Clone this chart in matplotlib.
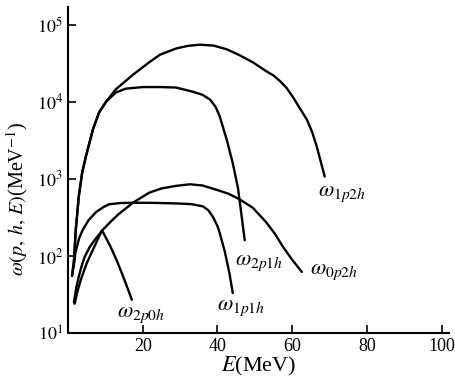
import matplotlib
matplotlib.use("Agg")
import matplotlib.pyplot as plt

plt.rcParams['font.family'] = ['Liberation Serif', 'DejaVu Serif']
plt.rcParams['mathtext.fontset'] = 'stix'

# values (E in MeV, omega in MeV^-1)
E_1p2h = [1.1, 1.6, 2.1, 2.9, 3.8, 4.8, 6.7, 8.3, 10.2, 12.8, 17.4, 21.7, 24.6, 28.9, 32.0, 35.3,
          39.0, 42.5, 46.0, 49.5, 53.0, 55.0, 56.7, 58.5, 60.2, 62.0, 63.9, 65.3, 66.6, 68.7]
w_1p2h = [55, 85, 220, 590, 1200, 1950, 4400, 7200, 10000, 14500, 22400, 32400, 40700, 49000, 53000, 55000,
          53500, 47900, 40000, 32400, 25000, 21900, 18600, 15100, 11500, 8300, 5900, 4100, 2600, 1070]

E_2p1h = [1.1, 1.6, 2.1, 2.9, 3.8, 4.8, 6.7, 8.3, 10.2, 12.8, 15.5, 20.0, 24.6, 28.9, 33.4, 36.0,
          38.0, 39.5, 40.6, 42.5, 44.1, 45.5, 46.5, 47.3]
w_2p1h = [55, 85, 220, 590, 1200, 1950, 4400, 7200, 10000, 13200, 14800, 15500, 15500, 15300, 13500, 12300,
          10700, 8600, 6500, 3200, 1600, 760, 320, 160]

E_1p1h = [1.5, 2.0, 3.0, 4.0, 5.5, 7.5, 9.5, 11.0, 14.0, 17.4, 23.0, 28.9, 33.0, 36.1, 37.6, 38.8,
          40.0, 40.6, 42.0, 43.2, 44.1]
w_1p1h = [70, 110, 170, 220, 290, 370, 430, 468, 485, 490, 488, 480, 470, 440, 390, 320,
          245, 200, 112, 60, 33]

E_0p2h = [1.6, 2.2, 2.9, 3.7, 4.5, 5.8, 7.2, 9.4, 11.5, 13.6, 17.4, 21.7, 25.0, 28.9, 32.6, 36.0,
          39.8, 43.0, 46.0, 49.5, 53.0, 55.5, 57.5, 60.0, 62.6]
w_0p2h = [25, 38, 54, 75, 98, 130, 162, 220, 280, 350, 490, 660, 750, 810, 850, 820,
          720, 640, 540, 420, 275, 190, 132, 89, 62]

E_2p0h = [1.8, 2.5, 3.5, 5.0, 6.5, 8.0, 9.1, 10.5, 11.8, 13.2, 14.4, 15.8, 17.1]
w_2p0h = [24, 34, 50, 80, 115, 165, 215, 160, 120, 84, 60, 40, 27]

labels = [r'$\omega_{1p2h}$', r'$\omega_{2p1h}$', r'$\omega_{0p2h}$', r'$\omega_{2p0h}$', r'$\omega_{1p1h}$']
label_E = [66.8, 44.7, 64.7, 13.1, 39.8]
label_w = [640, 80, 62, 17, 21]

fig = plt.figure(figsize=(4.56, 3.85), dpi=100)
ax = fig.add_axes([0.149, 0.135, 0.836, 0.847])

for E, w in [(E_1p2h, w_1p2h), (E_2p1h, w_2p1h), (E_1p1h, w_1p1h), (E_0p2h, w_0p2h), (E_2p0h, w_2p0h)]:
    ax.plot(E, w, color='black', lw=1.7, solid_capstyle='round', solid_joinstyle='round')

for t, x, y in zip(labels, label_E, label_w):
    ax.text(x, y, t, fontsize=16, ha='left', va='center')

ax.set_yscale('log')
ax.set_xlim(0, 102)
ax.set_ylim(10, 10 ** 5.23)
ax.set_xticks([20, 40, 60, 80, 100])
ax.set_yticks([1e1, 1e2, 1e3, 1e4, 1e5])
ax.set_yticklabels([r'$10^{1}$', r'$10^{2}$', r'$10^{3}$', r'$10^{4}$', r'$10^{5}$'])
ax.minorticks_off()
ax.tick_params(direction='in', length=6, width=1.2, labelsize=13)
ax.spines['top'].set_visible(False)
ax.spines['right'].set_visible(False)
ax.spines['left'].set_linewidth(1.5)
ax.spines['bottom'].set_linewidth(1.5)

ax.set_xlabel(r'$E$(MeV)', fontsize=16, labelpad=0)
ax.set_ylabel(r'$\omega(p,\,h,\,E)$(MeV$^{-1}$)', fontsize=14.5)
ax.yaxis.set_label_coords(-0.1, 0.41)

plt.savefig('out.png', dpi=100)
